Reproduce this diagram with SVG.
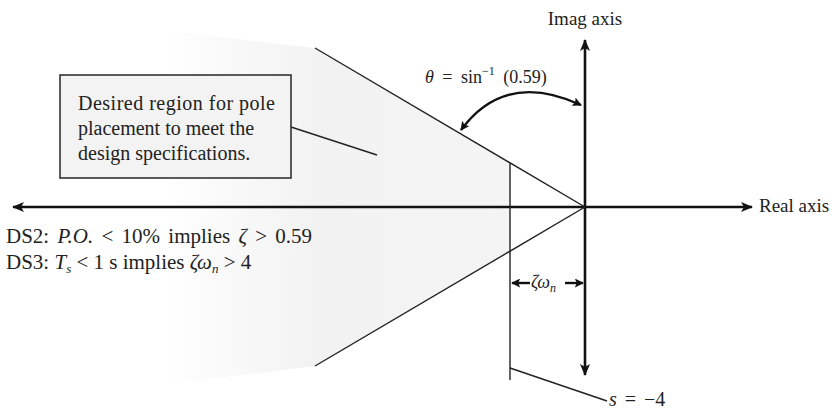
<svg xmlns="http://www.w3.org/2000/svg" width="837" height="409" viewBox="0 0 837 409">
<defs>
<style>
.ax{stroke:#111;stroke-width:2.6;fill:none}
.ln{stroke:#222;stroke-width:1.4;fill:none}
.t{font-family:"Liberation Serif",serif;fill:#222}
.i{font-style:italic}
</style>
<marker id="big" viewBox="0 0 12 10" refX="11" refY="5" markerWidth="12" markerHeight="10" orient="auto-start-reverse" markerUnits="userSpaceOnUse">
<path d="M0,0 L12,5 L0,10 L3,5 Z" fill="#111"/>
</marker>
<marker id="sm" viewBox="0 0 10 10" refX="9" refY="5" markerWidth="9" markerHeight="9" orient="auto-start-reverse" markerUnits="userSpaceOnUse">
<path d="M0,0 L10,5 L0,10 L2,5 Z" fill="#111"/>
</marker>
<linearGradient id="sh" gradientUnits="userSpaceOnUse" x1="160" y1="0" x2="510" y2="0">
<stop offset="0" stop-color="#f2f2f2" stop-opacity="0"/>
<stop offset="0.45" stop-color="#f2f2f2"/>
<stop offset="1" stop-color="#f4f4f4"/>
</linearGradient>
</defs>
<rect width="837" height="409" fill="#fff"/>
<g id="region">
<polygon points="160,30 315,48 510,163 510,251 315,366 160,385" fill="url(#sh)"/>
</g>
<g id="connectors">
<line class="ax" x1="13" y1="207" x2="752" y2="207" marker-start="url(#big)" marker-end="url(#big)"/>
<line class="ax" x1="585" y1="375" x2="585" y2="40" marker-start="url(#big)" marker-end="url(#big)"/>
<line class="ln" x1="315" y1="48" x2="585" y2="207"/>
<line class="ln" x1="315" y1="366" x2="585" y2="207"/>
<line class="ln" x1="510" y1="163" x2="510" y2="380"/>
<line class="ln" x1="510" y1="368" x2="607" y2="401"/>
<line class="ln" x1="291" y1="127" x2="377" y2="155"/>
<path class="ax" style="stroke-width:2.4" d="M461,130 Q505,70 581,105" marker-start="url(#sm)" marker-end="url(#sm)"/>
<line class="ax" style="stroke-width:2.4" x1="512" y1="283" x2="530" y2="283" marker-start="url(#sm)"/>
<line class="ax" style="stroke-width:2.4" x1="565" y1="283" x2="583" y2="283" marker-end="url(#sm)"/>
</g>
<g id="box">
<rect x="60" y="75" width="231" height="103" fill="#f3f3f3" stroke="#333" stroke-width="1.6"/>
<text class="t" x="78" y="110" font-size="20" textLength="197" lengthAdjust="spacing">Desired region for pole</text>
<text class="t" x="78" y="135" font-size="20">placement to meet the</text>
<text class="t" x="78" y="160" font-size="20">design specifications.</text>
</g>
<g id="labels">
<text class="t" x="585" y="25" font-size="19" text-anchor="middle">Imag axis</text>
<text class="t" x="759" y="212" font-size="19">Real axis</text>
<text class="t" x="425" y="83" font-size="18" word-spacing="4"><tspan class="i">θ</tspan> = sin<tspan dy="-8" font-size="12">−1</tspan><tspan dy="8"> (0.59)</tspan></text>
<text class="t" x="6" y="243" font-size="21" word-spacing="3">DS2: <tspan class="i">P.O.</tspan> &lt; 10% implies <tspan class="i">ζ</tspan> &gt; 0.59</text>
<text class="t" x="6" y="269" font-size="21">DS3: <tspan class="i">T</tspan><tspan class="i" dy="4" font-size="13">s</tspan><tspan dy="-4"> &lt; 1 s implies </tspan><tspan class="i">ζω</tspan><tspan class="i" dy="4" font-size="13">n</tspan><tspan dy="-4"> &gt; 4</tspan></text>
<text class="t" x="531" y="288" font-size="18"><tspan class="i">ζω</tspan><tspan class="i" dy="4" font-size="12">n</tspan></text>
<text class="t" x="609" y="406" font-size="20" word-spacing="3"><tspan class="i">s</tspan> = −4</text>
</g>
</svg>
